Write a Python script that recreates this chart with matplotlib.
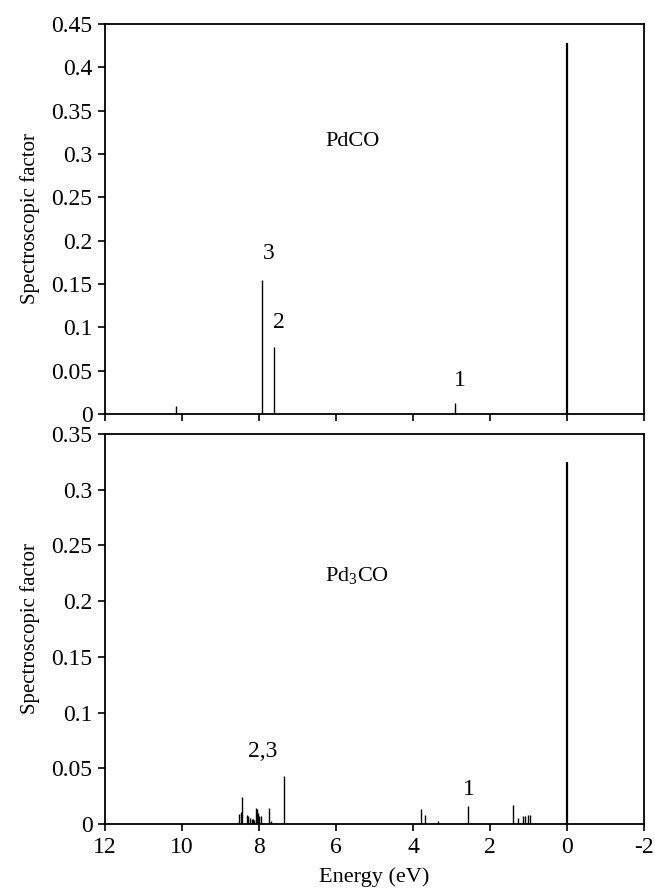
import matplotlib.pyplot as plt

plt.rcParams['font.family'] = ['Liberation Serif', 'DejaVu Serif']
plt.rcParams['mathtext.fontset'] = 'custom'
plt.rcParams['mathtext.rm'] = 'Liberation Serif'

# PdCO spectroscopic factors
pdco_energy = [10.16, 7.92, 7.62, 2.92, 0.0]
pdco_factor = [0.009, 0.155, 0.077, 0.013, 0.428]

# Pd3CO spectroscopic factors
pd3co_energy = [8.51, 8.48, 8.44, 8.32, 8.28, 8.24, 8.19, 8.16, 8.13, 8.08, 8.05,
                8.02, 7.99, 7.96, 7.73, 7.69, 7.35, 3.80, 3.68, 3.34, 2.56,
                1.41, 1.26, 1.13, 1.09, 1.00, 0.96, 0.0]
pd3co_factor = [0.0087, 0.0105, 0.0245, 0.0078, 0.0072, 0.005, 0.0048, 0.0048, 0.0032,
                0.014, 0.0135, 0.0095, 0.0075, 0.007, 0.014, 0.003, 0.043,
                0.0135, 0.008, 0.0027, 0.016,
                0.0175, 0.0052, 0.0074, 0.0074, 0.008, 0.008, 0.325]

top_ticks = [0, 0.05, 0.1, 0.15, 0.2, 0.25, 0.3, 0.35, 0.4, 0.45]
bot_ticks = [0, 0.05, 0.1, 0.15, 0.2, 0.25, 0.3, 0.35]
x_ticks = [12, 10, 8, 6, 4, 2, 0, -2]


def fmt(v):
    return '0' if v == 0 else ('%g' % v)


fig = plt.figure(figsize=(6.55, 8.88), dpi=100)
W, H = 655, 888
ax1 = fig.add_axes([105 / W, 1 - 414 / H, 539 / W, 390 / H])
ax2 = fig.add_axes([105 / W, 1 - 824 / H, 539 / W, 390 / H])

for ax, e, f, ticks, top in [(ax1, pdco_energy, pdco_factor, top_ticks, 0.45),
                              (ax2, pd3co_energy, pd3co_factor, bot_ticks, 0.35)]:
    lws = [1.6 if v == 0 else 1.0 for v in e]
    ax.vlines(e, 0, f, colors='black', linewidths=lws)
    ax.set_xlim(12, -2)
    ax.set_ylim(0, top)
    ax.set_xticks(x_ticks)
    ax.set_yticks(ticks)
    ax.set_yticklabels([fmt(t) for t in ticks])
    ax.tick_params(direction='out', length=5, width=1.2, labelsize=17, pad=4)
    for s in ax.spines.values():
        s.set_linewidth(1.3)
    ax.set_ylabel('Spectroscopic factor', fontsize=15, labelpad=8)

ax1.tick_params(axis='x', labelbottom=False)
ax2.set_xticklabels([str(t) for t in x_ticks])
ax2.set_xlabel('Energy (eV)', fontsize=16, labelpad=7)

ax1.text(5.56, 0.315, 'PdCO', fontsize=16, ha='center', va='center')
ax1.text(7.75, 0.185, '3', fontsize=17, ha='center', va='center')
ax1.text(7.49, 0.105, '2', fontsize=17, ha='center', va='center')
ax1.text(2.77, 0.039, '1', fontsize=17, ha='center', va='center')

ax2.text(5.46, 0.222, 'Pd$_3$CO', fontsize=16, ha='center', va='center')
ax2.text(7.9, 0.0655, '2,3', fontsize=17, ha='center', va='center')
ax2.text(2.54, 0.031, '1', fontsize=17, ha='center', va='center')

fig.savefig('out.png', dpi=100)
